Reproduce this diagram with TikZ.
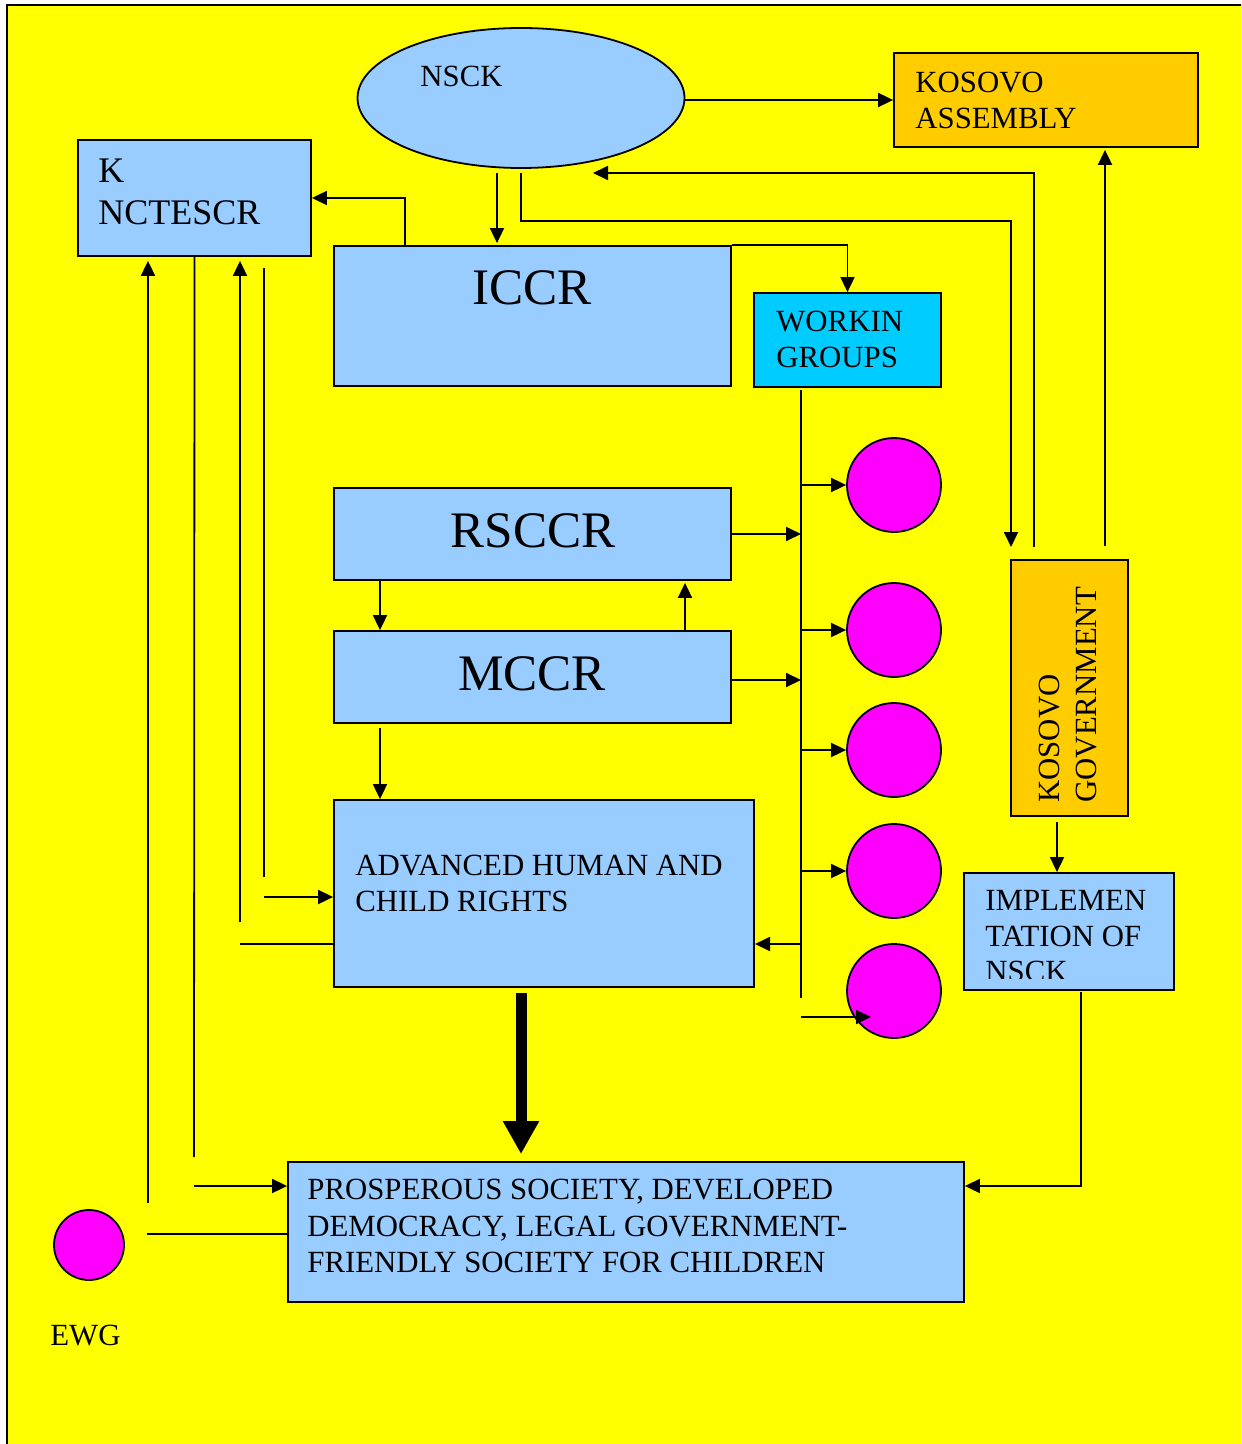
\documentclass[tikz,border=0pt]{standalone}
\usepackage{fontspec}
\setmainfont{Liberation Serif}
\usetikzlibrary{arrows.meta,shapes.geometric}
\definecolor{bgyellow}{HTML}{FFFF00}
\definecolor{lblue}{HTML}{99CCFF}
\definecolor{korange}{HTML}{FFCC00}
\definecolor{wgcyan}{HTML}{00CCFF}
\definecolor{dotmag}{HTML}{FF00FF}
\tikzset{
  box/.style={draw=black, line width=0.9pt, fill=lblue, rectangle, inner sep=0pt},
  dot/.style={draw=black, line width=0.9pt, fill=dotmag, circle, inner sep=0pt, minimum size=47pt},
  conn/.style={line width=0.9pt},
  arr/.style={conn, -{Triangle[length=7.5pt,width=7pt]}},
  bigarr/.style={line width=5.5pt, -{Triangle[length=16.5pt,width=17pt]}},
  txt/.style={inner sep=0pt, anchor=north west, align=left, font=\fontsize{15.4}{17.75}\selectfont},
  bigtxt/.style={inner sep=0pt, anchor=north, font=\fontsize{25.6}{30}\selectfont},
}
\begin{document}
\begin{tikzpicture}[x=0.5pt,y=-0.5pt]
\clip (0,0) rectangle (1241,1444);
\fill[white] (0,0) rectangle (1241,1444);
\draw[fill=bgyellow, line width=0.8pt] (7,5) rectangle (1260,1460);

% shapes
\node[draw=black, line width=0.9pt, fill=lblue, ellipse, inner sep=0pt, minimum width=163.5pt, minimum height=70pt] (nsck) at (521,98) {};
\node[box, fill=korange, minimum width=152pt, minimum height=47pt] (ka) at (1046,100) {};
\node[box, minimum width=116.5pt, minimum height=58pt] (kn) at (194.5,198) {};
\node[box, minimum width=198.5pt, minimum height=70pt] (iccr) at (532.5,316) {};
\node[box, fill=wgcyan, minimum width=93.5pt, minimum height=47pt] (wg) at (847.5,340) {};
\node[box, minimum width=198.5pt, minimum height=46pt] (rs) at (532.5,534) {};
\node[box, minimum width=198.5pt, minimum height=46pt] (mc) at (532.5,677) {};
\node[box, minimum width=210pt, minimum height=93.5pt] (adv) at (544,893.5) {};
\node[box, fill=korange, minimum width=58.5pt, minimum height=128pt] (gov) at (1069.5,688) {};
\node[box, minimum width=105pt, minimum height=58.5pt] (impl) at (1069,931.5) {};
\node[box, minimum width=338pt, minimum height=70pt] (psd) at (626,1232) {};
\node[dot] (c1) at (894,485) {};
\node[dot] (c2) at (894,630) {};
\node[dot] (c3) at (894,750) {};
\node[dot] (c4) at (894,871) {};
\node[dot] (c5) at (894,991) {};
\node[dot, minimum size=35pt] (ewg) at (89,1245) {};

% texts
\node[txt] (tnsck) at (420,66) {NSCK};
\node[txt] (tka) at (915,72) {KOSOVO\\ASSEMBLY};
\node[txt, font=\fontsize{18}{21}\selectfont] (tkn) at (98,159) {K\\NCTESCR};
\node[bigtxt] (ticcr) at (532,270) {ICCR};
\node[txt] (twg) at (776,311) {WORKIN\\GROUPS};
\node[bigtxt] (trs) at (533,513) {RSCCR};
\node[bigtxt] (tmc) at (532,656) {MCCR};
\node[txt] (tadv) at (355,855) {ADVANCED HUMAN AND\\CHILD RIGHTS};
\node[txt, font=\fontsize{15.4}{18.2}\selectfont] (tpsd) at (307,1179) {PROSPEROUS SOCIETY, DEVELOPED\\DEMOCRACY, LEGAL GOVERNMENT-\\FRIENDLY SOCIETY FOR CHILDREN};
\node[txt] (tewg) at (50,1325) {EWG};
\node[txt, rotate=90, font=\fontsize{15.4}{18.5}\selectfont] (tgov) at (1039,803) {KOSOVO\\GOVERNMENT};
\begin{scope}
\clip (964,873) rectangle (1174,978);
\node[txt] (timpl) at (985,890) {IMPLEMEN\\TATION OF\\NSCK};
\end{scope}

% free-end coordinates
\coordinate (n1) at (497,173);
\coordinate (n2) at (521,173);
\coordinate (r1) at (1011,221);
\coordinate (g1) at (1011,547);
\coordinate (g2) at (1034,547);
\coordinate (n3) at (593,173);
\coordinate (g3) at (1105,546);
\coordinate (g4) at (1057,822);
\coordinate (b1) at (801,390);
\coordinate (b2) at (801,998);
\coordinate (b3) at (801,1017);
\coordinate (c5in) at (871,1017);
\coordinate (xl) at (380,0);
\coordinate (xr) at (685,0);
\coordinate (ik) at (405,0);
\coordinate (a1) at (755,944);
\coordinate (ka1) at (685,100);
\coordinate (m1) at (731,680);
\coordinate (e1) at (148,1203);
\coordinate (l2) at (194,1157);
\coordinate (p1) at (194,1186);
\coordinate (p2) at (147,1234);
\coordinate (l3) at (240,922);
\coordinate (l4) at (240,944);
\coordinate (l5) at (264,268);
\coordinate (l6) at (264,877);
\coordinate (l7) at (264,897);
\coordinate (i1) at (1081,992);
\coordinate (i2) at (1081,1186);
\coordinate (t1) at (521,993);

% connectors
\draw[arr] (ka1) -- (ka1 -| ka.west);
\draw[arr, shorten >=1pt] (n1) -- (n1 |- iccr.north);
\draw[arr] (n2) |- (r1) -- (g1);
\draw[arr] (g2) |- (n3);
\draw[arr, shorten >=1pt] (g3) -- (g3 |- ka.south);
\draw[arr] (iccr.north -| ik) |- (kn.east);
\draw[arr] (iccr.north east) -| (wg.north);
\draw[conn] (b1) -- (b2);
\draw[arr] (c1.west -| b1) -- (c1.west);
\draw[arr] (c2.west -| b1) -- (c2.west);
\draw[arr] (c3.west -| b1) -- (c3.west);
\draw[arr] (c4.west -| b1) -- (c4.west);
\draw[arr] (b3) -- (c5in);
\draw[arr] (rs.east) -- (rs.east -| b1);
\draw[arr] (m1) -- (m1 -| b1);
\draw[arr] (a1 -| b1) -- (a1);
\draw[arr] (rs.south -| xl) -- (mc.north -| xl);
\draw[arr, shorten >=1pt] (mc.north -| xr) -- (rs.south -| xr);
\draw[arr, shorten <=2pt] (mc.south -| xl) -- (adv.north -| xl);
\draw[arr, shorten >=2pt] (e1) -- (e1 |- kn.south);
\draw[conn] (kn.south) -- (l2);
\draw[arr] (p1) -- (p1 -| psd.west);
\draw[conn] (p2) -- (p2 -| psd.west);
\draw[arr, shorten >=2pt] (l3) -- (l3 |- kn.south);
\draw[conn] (l4) -- (l4 -| adv.west);
\draw[conn] (l5) -- (l6);
\draw[arr] (l7) -- (l7 -| adv.west);
\draw[arr] (g4) -- (g4 |- impl.north);
\draw[arr] (i1) -- (i2) -- (i2 -| psd.east);
\draw[bigarr, shorten >=3.5pt] (t1) -- (t1 |- psd.north);
\end{tikzpicture}
\end{document}
